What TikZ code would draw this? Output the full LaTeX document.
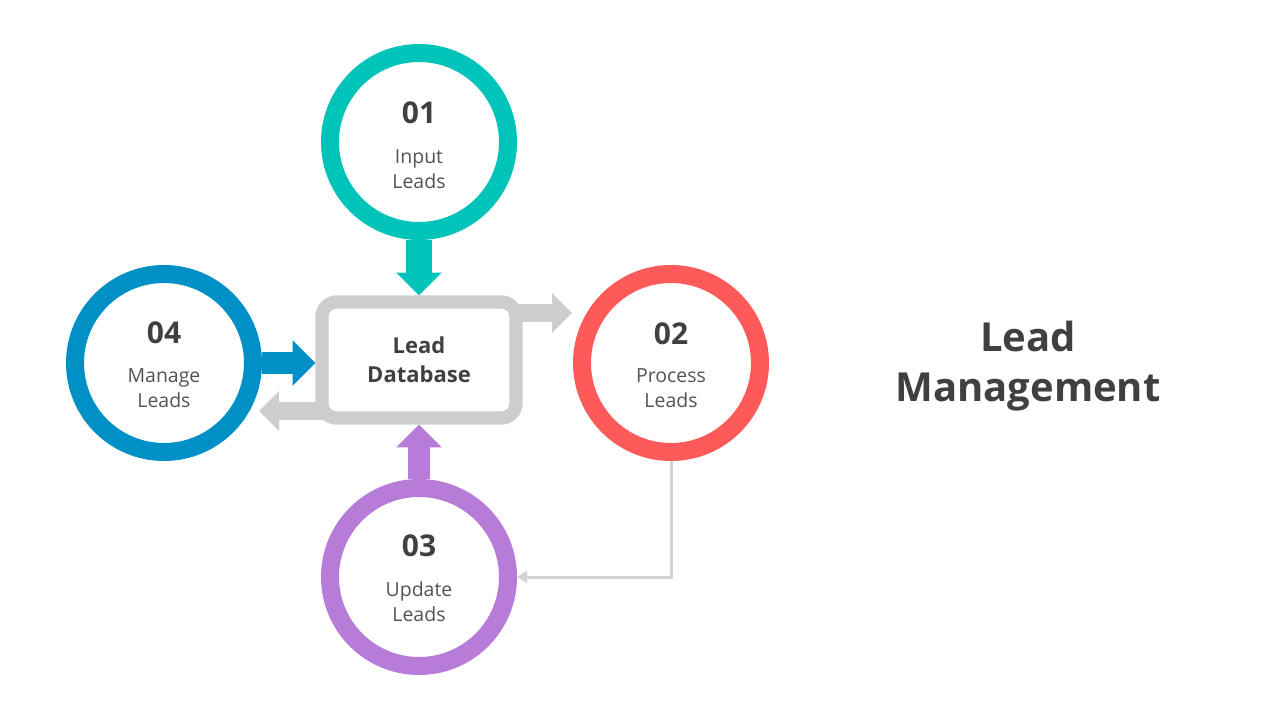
\documentclass[tikz,border=0pt]{standalone}
\usepackage{fontspec}
\setmainfont{Open Sans}
\usepackage{tikz}
\usetikzlibrary{positioning,arrows.meta,calc,shadows}

\definecolor{leadteal}{RGB}{0,196,186}
\definecolor{leadred}{RGB}{255,90,90}
\definecolor{leadpurple}{RGB}{183,123,216}
\definecolor{leadblue}{RGB}{0,144,198}
\definecolor{leadgray}{RGB}{206,204,204}
\definecolor{linegray}{RGB}{210,210,210}
\definecolor{textgray}{RGB}{64,64,64}

\begin{document}
\begin{tikzpicture}[x=0.75pt,y=-0.75pt,
    ring/.style={circle,draw=#1,fill=white,line width=13.5pt,minimum size=133.5pt,inner sep=0pt,
      drop shadow={opacity=0.12,shadow xshift=0pt,shadow yshift=-1.5pt}},
    num/.style={font=\fontsize{22.5}{27}\selectfont\bfseries,text=textgray,inner sep=0pt},
    lbl/.style={font=\fontsize{14.6}{18.75}\selectfont,text=textgray!90,align=center,inner sep=0pt},
    fatarrow/.style={line width=#1,-{Triangle[width=33pt,length=17pt]}},
    grayarrow/.style={draw=leadgray,line width=13.5pt,-{Triangle[width=29pt,length=15pt]}}]

  \useasboundingbox (0,0) rectangle (1280,720);

  \node[ring=leadteal] (c1) at (419,142) {};
  \node[ring=leadred] (c2) at (671,363) {};
  \node[ring=leadpurple] (c3) at (419,577) {};
  \node[ring=leadblue] (c4) at (164,363) {};

  \coordinate (dbR) at (572,313);
  \coordinate (dbL) at (259,411);

  \draw[grayarrow] (419,313) -- (dbR);
  \draw[grayarrow] (419,411) -- (dbL);

  \node[draw=leadgray,fill=white,line width=10pt,rounded corners=11pt,
        minimum width=145.5pt,minimum height=87pt,inner sep=0pt,
        drop shadow={opacity=0.12,shadow xshift=0pt,shadow yshift=-1.5pt}] (db) at (419,360) {};
  \node[font=\fontsize{16.5}{21.75}\selectfont\bfseries,text=textgray,align=center] (dbt) at (db.center) {Lead\\Database};

  \draw[fatarrow=19pt,draw=leadteal,fill=leadteal] (c1.south) -- (db.north);
  \draw[fatarrow=17pt,draw=leadblue,fill=leadblue] (c4.east) -- (db.west |- c4.east);
  \draw[fatarrow=17pt,draw=leadpurple,fill=leadpurple] (c3.north) -- (db.south);
  \draw[linegray,line width=2.25pt,-{Triangle[width=9pt,length=7.5pt]}]
    (c2.south) -- (c2.south |- c3.east) -- (c3.east);

  \node[num] (n1) at ($(c1)+(0,-29)$) {01};
  \node[lbl] (l1) at ($(c1)+(0,27)$) {Input\\Leads};
  \node[num] (n2) at ($(c2)+(0,-29)$) {02};
  \node[lbl] (l2) at ($(c2)+(0,25)$) {Process\\Leads};
  \node[num] (n3) at ($(c3)+(0,-31)$) {03};
  \node[lbl] (l3) at ($(c3)+(0,25)$) {Update\\Leads};
  \node[num] (n4) at ($(c4)+(0,-30)$) {04};
  \node[lbl] (l4) at ($(c4)+(0,25)$) {Manage\\Leads};

  \node[font=\fontsize{30}{37.5}\selectfont\bfseries,text=textgray,align=center] (title) at (1028,366) {Lead\\Management};

\end{tikzpicture}
\end{document}
